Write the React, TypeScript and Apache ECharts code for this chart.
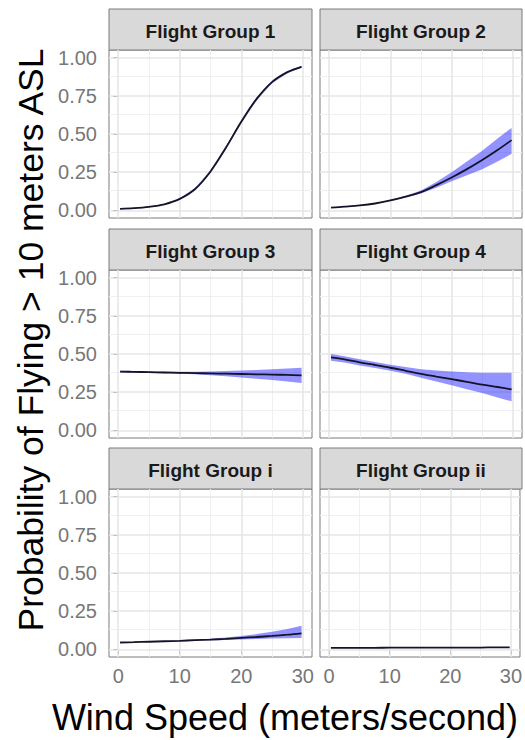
import React, { useEffect, useRef } from "react";
import * as echarts from "echarts";

// Wind speed sample points (m/s)
const speeds = [0.3, 2.5, 5, 7.5, 10, 12.5, 15, 17.5, 20, 22.5, 25, 27.5, 29.8];

const fg1Mean = [0.01, 0.014, 0.023, 0.04, 0.075, 0.14, 0.255, 0.41, 0.58, 0.73, 0.84, 0.905, 0.94];
const fg1Upper = [0.012, 0.016, 0.026, 0.044, 0.08, 0.147, 0.263, 0.42, 0.59, 0.74, 0.848, 0.912, 0.947];
const fg1Lower = [0.008, 0.012, 0.02, 0.036, 0.07, 0.133, 0.247, 0.4, 0.57, 0.72, 0.832, 0.898, 0.933];

const fg2Mean = [0.018, 0.024, 0.032, 0.045, 0.065, 0.09, 0.12, 0.165, 0.215, 0.27, 0.33, 0.395, 0.46];
const fg2Upper = [0.018, 0.025, 0.034, 0.047, 0.068, 0.095, 0.13, 0.185, 0.25, 0.32, 0.39, 0.47, 0.54];
const fg2Lower = [0.018, 0.023, 0.03, 0.043, 0.062, 0.085, 0.11, 0.148, 0.19, 0.23, 0.27, 0.32, 0.37];

const fg3Mean = [0.385, 0.383, 0.381, 0.379, 0.377, 0.375, 0.373, 0.371, 0.369, 0.367, 0.365, 0.363, 0.36];
const fg3Upper = [0.39, 0.388, 0.386, 0.384, 0.383, 0.383, 0.385, 0.388, 0.392, 0.396, 0.4, 0.405, 0.41];
const fg3Lower = [0.38, 0.378, 0.376, 0.374, 0.371, 0.367, 0.361, 0.354, 0.346, 0.338, 0.33, 0.32, 0.31];

const fg4Mean = [0.478, 0.465, 0.445, 0.428, 0.41, 0.39, 0.37, 0.352, 0.335, 0.318, 0.3, 0.284, 0.268];
const fg4Upper = [0.5, 0.485, 0.465, 0.448, 0.43, 0.415, 0.4, 0.392, 0.385, 0.38, 0.378, 0.377, 0.377];
const fg4Lower = [0.455, 0.445, 0.425, 0.408, 0.39, 0.37, 0.345, 0.32, 0.295, 0.27, 0.245, 0.215, 0.19];

const fgiMean = [0.045, 0.047, 0.05, 0.053, 0.056, 0.06, 0.064, 0.069, 0.075, 0.081, 0.088, 0.096, 0.105];
const fgiUpper = [0.046, 0.049, 0.052, 0.055, 0.059, 0.064, 0.07, 0.078, 0.088, 0.1, 0.115, 0.133, 0.155];
const fgiLower = [0.044, 0.046, 0.048, 0.051, 0.053, 0.056, 0.059, 0.062, 0.065, 0.068, 0.071, 0.073, 0.075];

const fgiiMean = [0.01, 0.01, 0.01, 0.01, 0.011, 0.011, 0.011, 0.011, 0.012, 0.012, 0.012, 0.013, 0.013];
const fgiiUpper = [0.011, 0.011, 0.011, 0.011, 0.012, 0.012, 0.012, 0.012, 0.013, 0.013, 0.013, 0.014, 0.014];
const fgiiLower = [0.009, 0.009, 0.009, 0.009, 0.01, 0.01, 0.01, 0.01, 0.011, 0.011, 0.011, 0.012, 0.012];

const panelNames = ["Flight Group 1", "Flight Group 2", "Flight Group 3", "Flight Group 4", "Flight Group i", "Flight Group ii"];
const panelMeans = [fg1Mean, fg2Mean, fg3Mean, fg4Mean, fgiMean, fgiiMean];
const panelUppers = [fg1Upper, fg2Upper, fg3Upper, fg4Upper, fgiUpper, fgiiUpper];
const panelLowers = [fg1Lower, fg2Lower, fg3Lower, fg4Lower, fgiLower, fgiiLower];

const xTicks = [0, 10, 20, 30];
const xMinor = [5, 15, 25];
const yTicks = [0, 0.25, 0.5, 0.75, 1];
const yMinor = [0.125, 0.375, 0.625, 0.875];

const yTitle = "Probability of Flying > 10 meters ASL";
const xTitle = "Wind Speed (meters/second)";

const FONT = "Liberation Sans, Arial, sans-serif";

export default function App() {
  const ref = useRef<HTMLDivElement>(null);
  useEffect(() => {
    if (!ref.current) return;
    const chart = echarts.init(ref.current, undefined, { renderer: "svg" });

    const colLeft = [109, 320];
    const colWidth = [203, 202];
    const rowTop = [50, 270, 489];
    const plotH = 168;
    const stripH = 41;

    const grids: any[] = [];
    const xAxes: any[] = [];
    const yAxes: any[] = [];
    const series: any[] = [];
    const graphics: any[] = [];

    panelNames.forEach((name, i) => {
      const row = Math.floor(i / 2);
      const col = i % 2;
      grids.push({
        left: colLeft[col],
        top: rowTop[row],
        width: colWidth[col],
        height: plotH,
        show: true,
        backgroundColor: "#ffffff",
        borderColor: "#7a7a7a",
        borderWidth: 1,
        containLabel: false,
      });
      xAxes.push({
        type: "value",
        gridIndex: i,
        min: -1.5,
        max: 31.5,
        splitLine: { show: false },
        axisLine: { show: false },
        axisTick: {
          show: row === 2,
          customValues: xTicks,
          length: 5,
          lineStyle: { color: "#555555", width: 1 },
        },
        axisLabel: {
          show: row === 2,
          customValues: xTicks,
          fontSize: 20,
          color: "#777777",
          margin: 9,
          fontFamily: FONT,
        },
      });
      yAxes.push({
        type: "value",
        gridIndex: i,
        min: -0.05,
        max: 1.05,
        splitLine: { show: false },
        axisLine: { show: false },
        axisTick: {
          show: col === 0,
          customValues: yTicks,
          length: 5,
          lineStyle: { color: "#555555", width: 1 },
        },
        axisLabel: {
          show: col === 0,
          customValues: yTicks,
          fontSize: 20,
          color: "#777777",
          margin: 12,
          fontFamily: FONT,
          formatter: (v: number) => v.toFixed(2),
        },
      });

      const major = { color: "#e6e6e6", width: 1.6 };
      const minor = { color: "#f0f0f0", width: 1 };
      series.push({
        type: "line",
        xAxisIndex: i,
        yAxisIndex: i,
        data: [[speeds[0], panelMeans[i][0]]],
        showSymbol: false,
        lineStyle: { opacity: 0 },
        silent: true,
        z: 1,
        markLine: {
          silent: true,
          z: 1,
          symbol: ["none", "none"],
          label: { show: false },
          data: [
            ...xMinor.map((v) => ({ xAxis: v, lineStyle: { ...minor, type: "solid" } })),
            ...yMinor.map((v) => ({ yAxis: v, lineStyle: { ...minor, type: "solid" } })),
            ...xTicks.map((v) => ({ xAxis: v, lineStyle: { ...major, type: "solid" } })),
            ...yTicks.map((v) => ({ yAxis: v, lineStyle: { ...major, type: "solid" } })),
          ],
        },
      });

      const lower = panelLowers[i];
      const upper = panelUppers[i];
      const n = speeds.length;
      series.push({
        type: "custom",
        xAxisIndex: i,
        yAxisIndex: i,
        data: speeds.map((s, k) => [s, lower[k], upper[k]]),
        silent: true,
        z: 2,
        renderItem: (params: any, api: any) => {
          if (params.dataIndexInside !== 0) return null;
          const top: number[][] = [];
          const bottom: number[][] = [];
          for (let k = 0; k < n; k++) {
            const x = api.value(0, k);
            bottom.push(api.coord([x, api.value(1, k)]));
            top.push(api.coord([x, api.value(2, k)]));
          }
          const pts = bottom.concat(top.reverse());
          return {
            type: "polygon",
            shape: { points: pts },
            style: { fill: "rgba(30,30,255,0.48)", stroke: "none" },
          };
        },
      });
      series.push({
        type: "line",
        xAxisIndex: i,
        yAxisIndex: i,
        data: speeds.map((s, k) => [s, panelMeans[i][k]]),
        showSymbol: false,
        smooth: 0.35,
        lineStyle: { color: "#141428", width: 1.8 },
        silent: true,
        z: 3,
      });

      graphics.push({
        type: "rect",
        shape: { x: colLeft[col], y: rowTop[row] - stripH, width: colWidth[col], height: stripH },
        style: { fill: "#d9d9d9", stroke: "#7a7a7a", lineWidth: 1 },
      });
      graphics.push({
        type: "text",
        x: colLeft[col] + colWidth[col] / 2,
        y: rowTop[row] - stripH / 2 + 1.5,
        style: {
          text: name,
          fontFamily: FONT,
          fontWeight: "bold",
          fontSize: 19,
          fill: "#1a1a1a",
          align: "center",
          verticalAlign: "middle",
        },
      });
    });

    graphics.push({
      type: "text",
      x: 31,
      y: 340,
      rotation: Math.PI / 2,
      style: {
        text: yTitle,
        fontFamily: FONT,
        fontSize: 35.5,
        fill: "#000000",
        align: "center",
        verticalAlign: "middle",
      },
    });
    graphics.push({
      type: "text",
      x: 285,
      y: 717,
      style: {
        text: xTitle,
        fontFamily: FONT,
        fontSize: 36,
        fill: "#000000",
        align: "center",
        verticalAlign: "middle",
      },
    });

    chart.setOption({
      animation: false,
      backgroundColor: "#ffffff",
      grid: grids,
      xAxis: xAxes,
      yAxis: yAxes,
      series,
      graphic: graphics,
    });
    return () => chart.dispose();
  }, []);
  return (
    <div
      ref={ref}
      style={{ position: "absolute", left: 0, top: 0, width: 525, height: 740 }}
    />
  );
}
